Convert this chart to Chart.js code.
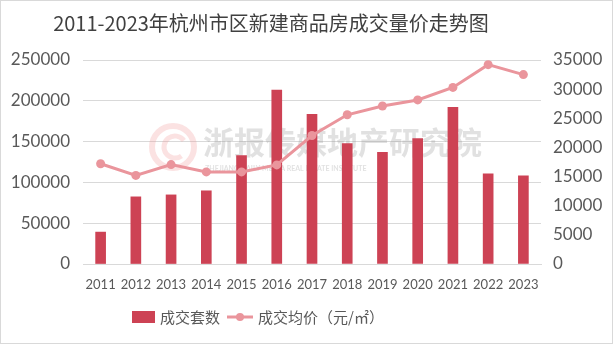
<!DOCTYPE html>
<html>
<head>
<meta charset="utf-8">
<script src="https://cdn.jsdelivr.net/npm/chart.js@4.4.1/dist/chart.umd.min.js"></script>
<style>
  html, body { margin: 0; padding: 0; background: #fff; }
  #wrap { position: relative; width: 611px; height: 342px; border: 1px solid #d9d9d9; }
</style>
</head>
<body>
<div id="wrap"><canvas id="chart" width="611" height="342"></canvas></div>
<script>
// --- DATA ---
const years = ['2011', '2012', '2013', '2014', '2015', '2016', '2017', '2018', '2019', '2020', '2021', '2022', '2023'];
const dealCount = [39100, 82300, 84700, 89700, 132800, 213000, 183400, 147600, 136900, 153800, 192000, 110600, 108200];
const avgPrice = [17200, 15200, 17050, 15800, 15800, 17000, 22050, 25600, 27100, 28150, 30300, 34200, 32500];
const leftTicks = [0, 50000, 100000, 150000, 200000, 250000];
const rightTicks = [0, 5000, 10000, 15000, 20000, 25000, 30000, 35000];

const TITLE = '2011-2023年杭州市区新建商品房成交量价走势图';
const BAR_COLOR = '#CD4254';
const LINE_COLOR = '#EA959C';
const TEXT_COLOR = '#595959';
const GRID_COLOR = '#d9d9d9';
const NUM_FONT = 'Lato, "Noto Sans CJK SC", sans-serif';
const CJK_FONT = '"Noto Sans CJK SC", sans-serif';

// title, watermark and legend drawn by hand
const decorPlugin = {
    id: 'decor',
    beforeDatasetsDraw(chart) {
        const ctx = chart.ctx;
        ctx.save();
        // logo ring
        ctx.strokeStyle = 'rgba(240, 150, 150, 0.28)';
        ctx.lineWidth = 6;
        ctx.beginPath();
        ctx.arc(172, 146, 21, 0, Math.PI * 2);
        ctx.stroke();
        ctx.lineWidth = 5;
        ctx.beginPath();
        ctx.arc(174, 146, 11, Math.PI * 0.3, Math.PI * 1.8);
        ctx.stroke();
        ctx.fillStyle = 'rgba(140, 140, 140, 0.26)';
        ctx.font = 'bold 31px ' + CJK_FONT;
        ctx.textBaseline = 'middle';
        ctx.textAlign = 'left';
        ctx.fillText('浙报传媒地产研究院', 202, 141);
        ctx.font = 'bold 7px ' + NUM_FONT;
        ctx.fillText('ZHEJIANG DAILY MEDIA REAL ESTATE INSTITUTE', 204, 168);
        ctx.restore();
    },
    afterDraw(chart) {
        const ctx = chart.ctx;
        ctx.save();
        ctx.fillStyle = '#404040';
        ctx.font = '20px ' + CJK_FONT;
        ctx.textAlign = 'center';
        ctx.textBaseline = 'middle';
        ctx.fillText(TITLE, 270, 22);

        // legend: bars first, then the line
        const bars = chart.data.datasets[1];
        const line = chart.data.datasets[0];
        const y = 316;
        ctx.font = '15px ' + CJK_FONT;
        ctx.textAlign = 'left';
        ctx.fillStyle = bars.backgroundColor;
        ctx.fillRect(131, y - 6, 23, 12);
        ctx.fillStyle = TEXT_COLOR;
        ctx.fillText(bars.label, 159, y);
        ctx.strokeStyle = line.borderColor;
        ctx.lineWidth = 3;
        ctx.beginPath();
        ctx.moveTo(226, y);
        ctx.lineTo(252, y);
        ctx.stroke();
        ctx.fillStyle = line.borderColor;
        ctx.beginPath();
        ctx.arc(239, y, 4, 0, Math.PI * 2);
        ctx.fill();
        ctx.fillStyle = TEXT_COLOR;
        ctx.fillText(line.label, 257, y);
        ctx.restore();
    }
};

new Chart(document.getElementById('chart'), {
    data: {
        labels: years,
        datasets: [
            {
                type: 'line',
                label: '成交均价（元/㎡）',
                data: avgPrice,
                yAxisID: 'yPrice',
                borderColor: LINE_COLOR,
                backgroundColor: LINE_COLOR,
                borderWidth: 3,
                pointRadius: 4.5,
                pointBackgroundColor: LINE_COLOR,
                pointBorderWidth: 0,
                tension: 0,
                order: 0
            },
            {
                type: 'bar',
                label: '成交套数',
                data: dealCount,
                yAxisID: 'yCount',
                backgroundColor: BAR_COLOR,
                barThickness: 10,
                order: 1
            }
        ]
    },
    options: {
        responsive: false,
        animation: false,
        layout: { padding: { top: 59, bottom: 49, left: 0, right: 0 } },
        plugins: {
            legend: { display: false },
            title: { display: false },
            tooltip: { enabled: false }
        },
        scales: {
            x: {
                grid: { display: false },
                border: { color: GRID_COLOR, width: 1 },
                ticks: { color: TEXT_COLOR, font: { family: NUM_FONT, size: 13 }, padding: 5, maxRotation: 0 },
                afterFit: (axis) => { axis.height = 30; }
            },
            yCount: {
                type: 'linear',
                position: 'left',
                min: 0,
                max: 250000,
                afterBuildTicks: (axis) => { axis.ticks = leftTicks.map(v => ({ value: v })); },
                grid: { color: GRID_COLOR, drawTicks: false },
                border: { display: false },
                ticks: { color: TEXT_COLOR, font: { family: NUM_FONT, size: 17 }, padding: 13, callback: (v) => String(v) },
                afterFit: (axis) => { axis.width = 82; }
            },
            yPrice: {
                type: 'linear',
                position: 'right',
                min: 0,
                max: 35000,
                afterBuildTicks: (axis) => { axis.ticks = rightTicks.map(v => ({ value: v })); },
                grid: { drawOnChartArea: false, drawTicks: false },
                border: { display: false },
                ticks: { color: TEXT_COLOR, font: { family: NUM_FONT, size: 17 }, padding: 12, callback: (v) => String(v) },
                afterFit: (axis) => { axis.width = 71; }
            }
        }
    },
    plugins: [decorPlugin]
});
</script>
</body>
</html>
